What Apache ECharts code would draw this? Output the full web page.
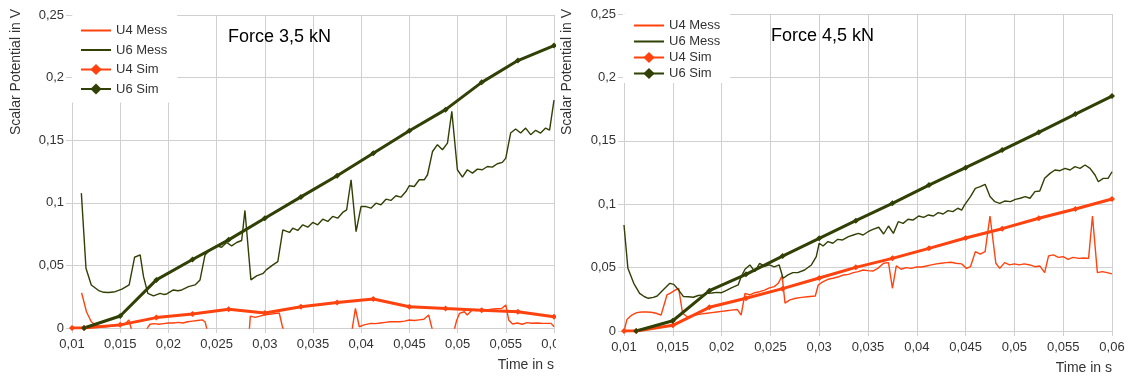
<!DOCTYPE html>
<html>
<head>
<meta charset="utf-8">
<script src="https://cdn.jsdelivr.net/npm/echarts@6/dist/echarts.min.js"></script>
<style>
  html, body { margin: 0; padding: 0; background: #fff; }
  #wrap { position: relative; width: 1128px; height: 376px; overflow: hidden; }
  #left { position: absolute; left: 0; top: 0; width: 556px; height: 376px; }
  #right { position: absolute; left: 556px; top: 0; width: 572px; height: 376px; }
</style>
</head>
<body>
<div id="wrap">
  <div id="left"></div>
  <div id="right"></div>
</div>
<script>
// axis ticks
const X_MIN = 0.01, X_MAX = 0.06, X_STEP = 0.005;
const Y_MIN = 0, Y_MAX = 0.25, Y_STEP = 0.05;
const SERIES_NAMES = ["U4 Mess", "U6 Mess", "U4 Sim", "U6 Sim"];

// Force 3,5 kN
const U4_MESS_35 = [
  [0.0110, 0.028], [0.0115, 0.013], [0.0120, 0.005], [0.0125, 0.002], [0.0130, 0.001],
  [0.0135, 0.001], [0.0140, 0.0015], [0.0145, 0.002], [0.0150, 0.002], [0.0155, 0.003],
  [0.0159, 0.0065], [0.0163, -0.005], [0.0170, -0.006], [0.0175, -0.005], [0.0179, 0.001],
  [0.0181, 0.003], [0.0185, 0.0035], [0.0190, 0.003], [0.0195, 0.0035], [0.0200, 0.004],
  [0.0205, 0.004], [0.0210, 0.0045], [0.0215, 0.004], [0.0220, 0.005], [0.0225, 0.0055],
  [0.0230, 0.006], [0.0235, 0.0065], [0.0238, 0.005], [0.0241, -0.004], [0.0245, -0.006],
  [0.0280, -0.006], [0.0284, -0.001], [0.0285, 0.0095], [0.0290, 0.0085], [0.0295, 0.0095],
  [0.0300, 0.0105], [0.0305, 0.011], [0.0310, 0.0115], [0.0315, 0.012], [0.0318, 0.002],
  [0.0321, -0.006], [0.0390, -0.004], [0.0394, 0.0157], [0.0398, 0.001], [0.0403, 0.0025],
  [0.0410, 0.0037], [0.0415, 0.0035], [0.0420, 0.004], [0.0425, 0.0045], [0.0430, 0.005],
  [0.0435, 0.005], [0.0440, 0.005], [0.0445, 0.0055], [0.0450, 0.0064], [0.0455, 0.006],
  [0.0460, 0.0065], [0.0465, 0.007], [0.0470, 0.0104], [0.0474, -0.002], [0.0478, -0.006],
  [0.0495, -0.006], [0.0499, 0.006], [0.0502, 0.0117], [0.0507, 0.013], [0.0510, 0.0104],
  [0.0515, 0.0144], [0.0520, 0.014], [0.0525, 0.015], [0.0530, 0.0145], [0.0535, 0.015],
  [0.0540, 0.0155], [0.0546, 0.0157], [0.0550, 0.0184], [0.0553, 0.0064], [0.0557, 0.0032],
  [0.0562, 0.004], [0.0567, 0.003], [0.0572, 0.0043], [0.0577, 0.0038], [0.0582, 0.004],
  [0.0587, 0.0038], [0.0592, 0.0037], [0.0597, 0.0037], [0.0600, 0.001]
];
const U6_MESS_35 = [
  [0.01097, 0.1077], [0.01145, 0.0477], [0.0120, 0.0344], [0.01276, 0.0299], [0.0133, 0.0285],
  [0.0138, 0.0283], [0.01448, 0.029], [0.01518, 0.031], [0.01593, 0.0344], [0.01649, 0.0565],
  [0.01707, 0.0584], [0.01742, 0.041], [0.01787, 0.0277], [0.01845, 0.0256], [0.01914, 0.0277],
  [0.0195, 0.0268], [0.01983, 0.0272], [0.02052, 0.0304], [0.0210, 0.0298], [0.02139, 0.0304],
  [0.02208, 0.033], [0.02276, 0.0344], [0.02328, 0.0384], [0.0238, 0.0584], [0.02432, 0.0624],
  [0.025, 0.0656], [0.02552, 0.0645], [0.02604, 0.0683], [0.02656, 0.0656], [0.02708, 0.0683],
  [0.0276, 0.0699], [0.02794, 0.0939], [0.02856, 0.0384], [0.02915, 0.0416], [0.02984, 0.0437],
  [0.03015, 0.0464], [0.03084, 0.0504], [0.03135, 0.053], [0.03187, 0.0784], [0.03256, 0.0763],
  [0.0329, 0.0797], [0.03342, 0.0779], [0.03394, 0.0824], [0.03446, 0.0805], [0.03497, 0.0843],
  [0.03549, 0.0824], [0.03601, 0.0869], [0.03653, 0.0851], [0.03704, 0.0891], [0.03756, 0.0877],
  [0.03808, 0.0923], [0.03849, 0.0944], [0.03895, 0.1184], [0.03947, 0.077], [0.03998, 0.097],
  [0.0405, 0.097], [0.04101, 0.0957], [0.04153, 0.0997], [0.04205, 0.0984], [0.04257, 0.1029],
  [0.04308, 0.1019], [0.0436, 0.1056], [0.04412, 0.1045], [0.04464, 0.109], [0.04498, 0.1136],
  [0.0455, 0.113], [0.04602, 0.1184], [0.04654, 0.1184], [0.04688, 0.1224], [0.0474, 0.141],
  [0.04791, 0.1464], [0.04843, 0.1424], [0.04895, 0.1477], [0.0494, 0.173], [0.04998, 0.1264],
  [0.0505, 0.1205], [0.05101, 0.1264], [0.05154, 0.1237], [0.05205, 0.1269], [0.05257, 0.1264],
  [0.05309, 0.129], [0.0536, 0.1285], [0.05412, 0.1312], [0.05464, 0.1323], [0.055, 0.1357],
  [0.0555, 0.1557], [0.05602, 0.159], [0.05654, 0.1557], [0.05706, 0.1597], [0.05758, 0.1544],
  [0.0581, 0.1579], [0.05861, 0.1557], [0.05913, 0.1597], [0.05954, 0.158], [0.06, 0.182]
];
const U4_SIM_35 = [
  [0.01, 0], [0.01125, 0], [0.015, 0.0025], [0.01875, 0.0083], [0.0225, 0.0112],
  [0.02625, 0.015], [0.03, 0.012], [0.03375, 0.017], [0.0375, 0.0203], [0.04125, 0.0232],
  [0.045, 0.017], [0.04875, 0.0155], [0.0525, 0.0142], [0.05625, 0.013], [0.06, 0.009]
];
const U6_SIM_35 = [
  [0.01125, 0], [0.015, 0.0096], [0.01875, 0.0384], [0.0225, 0.0547], [0.02625, 0.0704],
  [0.03, 0.0877], [0.03375, 0.1047], [0.0375, 0.1216], [0.04125, 0.1395], [0.045, 0.1576],
  [0.04875, 0.1744], [0.0525, 0.1962], [0.05625, 0.2136], [0.06, 0.2256]
];

// Force 4,5 kN
const U4_MESS_45 = [
  [0.0100, 0.000], [0.0103, 0.009], [0.0108, 0.0126], [0.0113, 0.0145], [0.0118, 0.015],
  [0.0123, 0.015], [0.0128, 0.0148], [0.0133, 0.014], [0.0138, 0.0125], [0.0140, 0.0113],
  [0.0144, 0.0284], [0.0148, 0.030], [0.0152, 0.032], [0.0156, 0.0337], [0.0160, 0.014],
  [0.0165, 0.011], [0.0170, 0.012], [0.0175, 0.013], [0.0180, 0.0135], [0.0185, 0.014],
  [0.0190, 0.0145], [0.0195, 0.015], [0.0200, 0.0155], [0.0205, 0.016], [0.0210, 0.0165],
  [0.0216, 0.017], [0.0220, 0.0126], [0.0224, 0.0297], [0.0229, 0.0284], [0.0234, 0.0302],
  [0.0239, 0.031], [0.0244, 0.0323], [0.0249, 0.034], [0.0254, 0.035], [0.0258, 0.0376],
  [0.0262, 0.0435], [0.0265, 0.022], [0.0270, 0.0245], [0.0276, 0.0258], [0.0282, 0.0265],
  [0.0288, 0.027], [0.0296, 0.0276], [0.0299, 0.0363], [0.0304, 0.0389], [0.0309, 0.0408],
  [0.0314, 0.0416], [0.0320, 0.0428], [0.0325, 0.0442], [0.0330, 0.0447], [0.0335, 0.046],
  [0.0340, 0.0468], [0.0345, 0.0481], [0.0350, 0.0476], [0.0355, 0.0473], [0.0360, 0.0494],
  [0.0366, 0.0534], [0.0371, 0.0539], [0.0375, 0.0337], [0.0379, 0.0513], [0.0384, 0.0487],
  [0.0389, 0.050], [0.0394, 0.0494], [0.0400, 0.0505], [0.0405, 0.0505], [0.0410, 0.0513],
  [0.0415, 0.0521], [0.0420, 0.0529], [0.0425, 0.0534], [0.0430, 0.0539], [0.0435, 0.0542],
  [0.0440, 0.0534], [0.0446, 0.0529], [0.0451, 0.0494], [0.0455, 0.0507], [0.0460, 0.0626],
  [0.0465, 0.0607], [0.0470, 0.0626], [0.0475, 0.0907], [0.0481, 0.0534], [0.0485, 0.0494],
  [0.0490, 0.0539], [0.0495, 0.0521], [0.0500, 0.0529], [0.0505, 0.0521], [0.0510, 0.0529],
  [0.0516, 0.0521], [0.0521, 0.0507], [0.0526, 0.0513], [0.0531, 0.046], [0.0535, 0.0592],
  [0.0540, 0.060], [0.0545, 0.0581], [0.0550, 0.0586], [0.0555, 0.0565], [0.0560, 0.0581],
  [0.0566, 0.0573], [0.0571, 0.0576], [0.0576, 0.0573], [0.0580, 0.0907], [0.0585, 0.046],
  [0.0590, 0.0468], [0.0595, 0.046], [0.0600, 0.045]
];
const U6_MESS_45 = [
  [0.0100, 0.0836], [0.0104, 0.0494], [0.0110, 0.0376], [0.0116, 0.0297], [0.0121, 0.027],
  [0.0125, 0.0258], [0.0130, 0.0265], [0.0134, 0.0276], [0.0140, 0.0323], [0.0147, 0.0376],
  [0.0151, 0.0368], [0.0156, 0.0323], [0.0161, 0.0271], [0.0166, 0.027], [0.0171, 0.0266],
  [0.0176, 0.028], [0.0181, 0.0285], [0.0185, 0.0297], [0.0190, 0.030], [0.0195, 0.0305],
  [0.0200, 0.0302], [0.0205, 0.032], [0.0210, 0.034], [0.0217, 0.0363], [0.0220, 0.0428],
  [0.0224, 0.0487], [0.0229, 0.0521], [0.0234, 0.0468], [0.0239, 0.0534], [0.0244, 0.051],
  [0.0249, 0.0521], [0.0254, 0.0505], [0.0259, 0.0521], [0.0263, 0.0416], [0.0268, 0.0442],
  [0.0273, 0.046], [0.0278, 0.046], [0.0285, 0.0481], [0.0292, 0.0521], [0.0297, 0.0586],
  [0.0300, 0.0692], [0.0304, 0.067], [0.0309, 0.0705], [0.0314, 0.0692], [0.0319, 0.0723],
  [0.0324, 0.0718], [0.0330, 0.0744], [0.0335, 0.0757], [0.0340, 0.077], [0.0345, 0.0757],
  [0.0350, 0.0783], [0.0355, 0.0802], [0.0361, 0.0818], [0.0366, 0.0765], [0.0371, 0.0828],
  [0.0376, 0.077], [0.0381, 0.0862], [0.0386, 0.0849], [0.0391, 0.0881], [0.0396, 0.0875],
  [0.0402, 0.0907], [0.0407, 0.0896], [0.0412, 0.0915], [0.0417, 0.0907], [0.0422, 0.0933],
  [0.0427, 0.0923], [0.0432, 0.0949], [0.0437, 0.0941], [0.0442, 0.0968], [0.0446, 0.0954],
  [0.0449, 0.0994], [0.0455, 0.106], [0.0460, 0.1125], [0.0465, 0.1138], [0.0470, 0.1157],
  [0.0475, 0.106], [0.0480, 0.102], [0.0485, 0.1007], [0.0490, 0.1025], [0.0496, 0.102],
  [0.0501, 0.1038], [0.0506, 0.1047], [0.0511, 0.106], [0.0516, 0.1047], [0.0521, 0.1099],
  [0.0526, 0.1104], [0.0531, 0.1204], [0.05365, 0.1243], [0.05416, 0.127], [0.05467, 0.1264],
  [0.05519, 0.1283], [0.0557, 0.127], [0.05621, 0.1296], [0.05672, 0.1283], [0.05724, 0.1309],
  [0.05775, 0.1283], [0.05826, 0.123], [0.0586, 0.1177], [0.0591, 0.1204], [0.0596, 0.1204],
  [0.0600, 0.1256]
];
const U4_SIM_45 = [
  [0.01, 0], [0.01125, 0], [0.015, 0.0045], [0.01875, 0.0187], [0.0225, 0.0258],
  [0.02625, 0.0334], [0.03, 0.0418], [0.03375, 0.0502], [0.0375, 0.0573], [0.04125, 0.0652],
  [0.045, 0.0733], [0.04875, 0.0807], [0.0525, 0.0889], [0.05625, 0.0962], [0.06, 0.1041]
];
const U6_SIM_45 = [
  [0.01125, 0], [0.015, 0.0081], [0.01875, 0.0318], [0.0225, 0.0447], [0.02625, 0.0591],
  [0.03, 0.0731], [0.03375, 0.087], [0.0375, 0.1007], [0.04125, 0.1151], [0.045, 0.1288],
  [0.04875, 0.1427], [0.0525, 0.1567], [0.05625, 0.1711], [0.06, 0.1853]
];

const FONT = "'Liberation Sans', Arial, sans-serif";
const U4_COLOR = "#ff420e";
const U6_COLOR = "#314004";
const GRID_COLOR = "#d0d0d0";
const TEXT_COLOR = "#333333";

function commaNumber(v) {
  return String(Math.round(v * 1000) / 1000).replace(".", ",");
}

function messSeries(name, data, color) {
  return {
    name, type: "line", data, symbol: "none",
    lineStyle: { width: 1.4, color }, itemStyle: { color },
  };
}

function simSeries(name, data, color) {
  return {
    name, type: "line", data, symbol: "diamond", symbolSize: 6,
    lineStyle: { width: 3, color }, itemStyle: { color },
  };
}

// measured series get a plain line in the legend, no marker
const LEGEND_DATA = SERIES_NAMES.map((name) =>
  name.endsWith("Mess") ? { name, itemStyle: { opacity: 0 } } : { name }
);

function buildOption(p) {
  return {
    animation: false,
    textStyle: { fontFamily: FONT },
    title: {
      text: p.title, left: p.titleX, top: p.titleY, padding: 0,
      textStyle: { fontFamily: FONT, fontSize: 18, fontWeight: "normal", color: "#000" },
    },
    legend: {
      data: LEGEND_DATA, orient: "vertical", left: p.legendX, top: p.legendY,
      padding: p.legendPad, itemGap: p.legendGap, itemWidth: 30, itemHeight: 14,
      backgroundColor: "#fff",
      textStyle: { fontFamily: FONT, fontSize: 13, color: TEXT_COLOR },
    },
    grid: Object.assign({ outerBoundsMode: "none", containLabel: false }, p.grid),
    xAxis: {
      type: "value", min: X_MIN, max: X_MAX, interval: X_STEP,
      axisLine: { show: true, lineStyle: { color: GRID_COLOR } },
      axisTick: { show: true, length: 5, lineStyle: { color: GRID_COLOR } },
      axisLabel: { formatter: commaNumber, fontFamily: FONT, fontSize: 13, color: TEXT_COLOR, margin: 10 },
      splitLine: { show: true, lineStyle: { color: GRID_COLOR } },
    },
    yAxis: {
      type: "value", min: Y_MIN, max: Y_MAX, interval: Y_STEP,
      axisLine: { show: true, lineStyle: { color: GRID_COLOR } },
      axisTick: { show: true, length: 6, lineStyle: { color: GRID_COLOR } },
      axisLabel: { formatter: commaNumber, fontFamily: FONT, fontSize: 13, color: TEXT_COLOR, margin: 8 },
      splitLine: { show: true, lineStyle: { color: GRID_COLOR } },
    },
    graphic: [
      {
        type: "text", x: p.yNameX, y: 72, rotation: Math.PI / 2,
        style: {
          text: "Scalar Potential in V", font: "14px " + FONT, fill: TEXT_COLOR,
          align: "center", verticalAlign: "middle",
          textAlign: "center", textVerticalAlign: "middle",
        },
      },
      {
        type: "text", x: p.xNameX, y: p.xNameY,
        style: {
          text: "Time in s", font: "14px " + FONT, fill: TEXT_COLOR,
          align: "right", verticalAlign: "middle",
          textAlign: "right", textVerticalAlign: "middle",
        },
      },
    ],
    series: [
      messSeries("U4 Mess", p.u4Mess, U4_COLOR),
      messSeries("U6 Mess", p.u6Mess, U6_COLOR),
      simSeries("U4 Sim", p.u4Sim, U4_COLOR),
      simSeries("U6 Sim", p.u6Sim, U6_COLOR),
    ],
  };
}

const leftChart = echarts.init(document.getElementById("left"));
leftChart.setOption(buildOption({
  title: "Force 3,5 kN", titleX: 228, titleY: 28,
  legendX: 72, legendY: 15, legendPad: [9, 10, 7, 8], legendGap: 6.5,
  grid: { left: 72, right: 2, top: 15, bottom: 48 },
  yNameX: 16, xNameX: 554, xNameY: 365,
  u4Mess: U4_MESS_35, u6Mess: U6_MESS_35, u4Sim: U4_SIM_35, u6Sim: U6_SIM_35,
}));

const rightChart = echarts.init(document.getElementById("right"));
rightChart.setOption(buildOption({
  title: "Force 4,5 kN", titleX: 215, titleY: 27,
  legendX: 67, legendY: 14, legendPad: [5, 10, 3, 10], legendGap: 3,
  grid: { left: 68, right: 16, top: 14, bottom: 45 },
  yNameX: 11, xNameX: 556, xNameY: 368,
  u4Mess: U4_MESS_45, u6Mess: U6_MESS_45, u4Sim: U4_SIM_45, u6Sim: U6_SIM_45,
}));
</script>
</body>
</html>
